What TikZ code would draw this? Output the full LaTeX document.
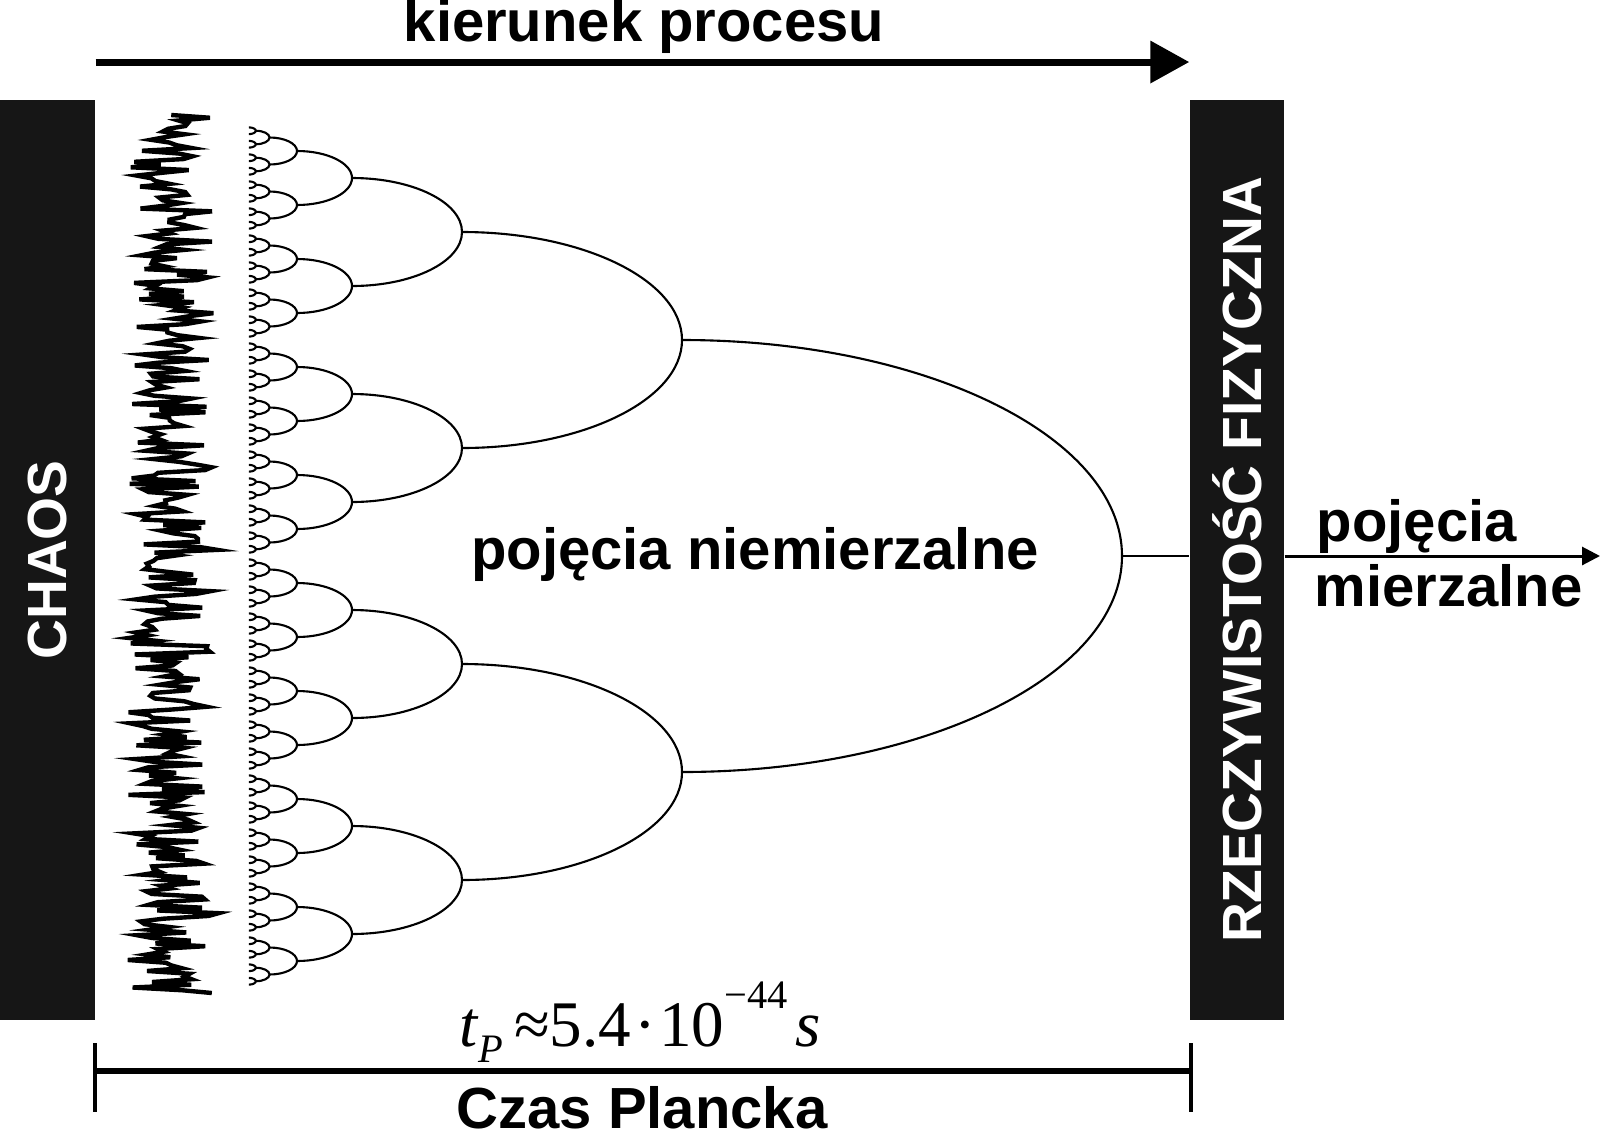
\documentclass[tikz,border=0pt]{standalone}
\usepackage{fontspec}
\setmainfont{Liberation Sans}
\newfontfamily\timesfont{Liberation Serif}
\usetikzlibrary{arrows.meta, positioning, calc}
\definecolor{bar-black}{HTML}{161616}
\tikzset{
  bar-box/.style={
    fill=bar-black, draw=none, inner sep=0pt, text=white,
    font=\bfseries\fontsize{15.7}{19}\selectfont
  },
  label-text/.style={inner sep=0pt, font=\bfseries\fontsize{16.5}{20}\selectfont},
  main-arrow/.style={-{Triangle[length=3.9mm, width=4.1mm]}, line width=2pt},
  out-arrow/.style={-{Triangle[length=1.8mm, width=1.8mm]}, line width=0.85pt},
  tree-arc/.style={line width=0.6pt},
  noise-line/.style={line width=1.25pt},
  span-line/.style={line width=1.7pt},
  span-tick/.style={line width=1pt}
}

\begin{document}
\begin{tikzpicture}[x=0.01cm, y=-0.01cm]
  \useasboundingbox (0,0) rectangle (1600,1136);

  % Paski boczne
  \node[bar-box, minimum width=0.95cm, minimum height=9.2cm] (chaos) at (47.5,560)
    {\rotatebox{90}{CHAOS}};
  \node[bar-box, minimum width=0.94cm, minimum height=9.2cm] (rzecz) at (1237,560)
    {\rotatebox{90}{RZECZYWISTOŚĆ FIZYCZNA}};

  % Kierunek procesu
  \coordinate (proc-l) at ($(chaos.north east)+(0,-37)$);
  \coordinate (proc-r) at ($(rzecz.north west)+(0,-37)$);
  \draw[main-arrow] (proc-l) -- (proc-r);
  \node[label-text, anchor=base] (kier) at (644,41) {kierunek procesu};

  % Szum (chaos)
  \pgfmathsetseed{7}
  \draw[noise-line] plot[samples=320, domain=115:993, variable=\t]
    ({170+36*rand+14*rand}, \t);

  % Drzewo podziałów
  \foreach \k in {0,...,6}{
    \pgfmathsetmacro\rx{440/2^\k}
    \pgfmathsetmacro\ry{216/2^\k}
    \pgfmathsetmacro\cx{682-440*(1-1/2^\k)}
    \pgfmathtruncatemacro\n{2^\k-1}
    \foreach \j in {0,...,\n}{
      \pgfmathsetmacro\cy{124+(2*\j+1)/2^\k*432}
      \draw[tree-arc] (\cx,\cy-\ry) arc[start angle=-90, end angle=90, x radius=\rx, y radius=\ry];
    }
  }

  \coordinate (root) at (1122,556);
  \draw[tree-arc] (root) -- (rzecz.west |- root);
  \coordinate (out-end) at (1600,556);
  \draw[out-arrow] (rzecz.east |- root) -- (out-end);

  \node[label-text, anchor=base] (niemierz) at (755,569) {pojęcia niemierzalne};
  \node[label-text, anchor=base west] (poj) at (1316,541) {pojęcia};
  \node[label-text, anchor=base west] (mierz) at (1314,606) {mierzalne};

  % Czas Plancka
  \node[inner sep=0pt, anchor=base, font=\timesfont\fontsize{18.5}{22}\selectfont] (tp) at (640,1046)
    {\textit{t}\raisebox{-0.55ex}{\fontsize{11.5}{14}\selectfont\textit{P}}\,≈5.4\kern0.05em·\kern0.05em10\raisebox{1.25ex}{\fontsize{11.5}{14}\selectfont −44}\kern0.12em\textit{s}};
  \coordinate (span-l) at (95,1071);
  \coordinate (span-r) at (1191,1071);
  \draw[span-line] (span-l) -- (span-r);
  \draw[span-tick] ($(span-l)+(0,-28)$) -- ($(span-l)+(0,41)$);
  \draw[span-tick] ($(span-r)+(0,-28)$) -- ($(span-r)+(0,41)$);
  \node[label-text, anchor=base] (czas) at (642,1128) {Czas Plancka};
\end{tikzpicture}
\end{document}
